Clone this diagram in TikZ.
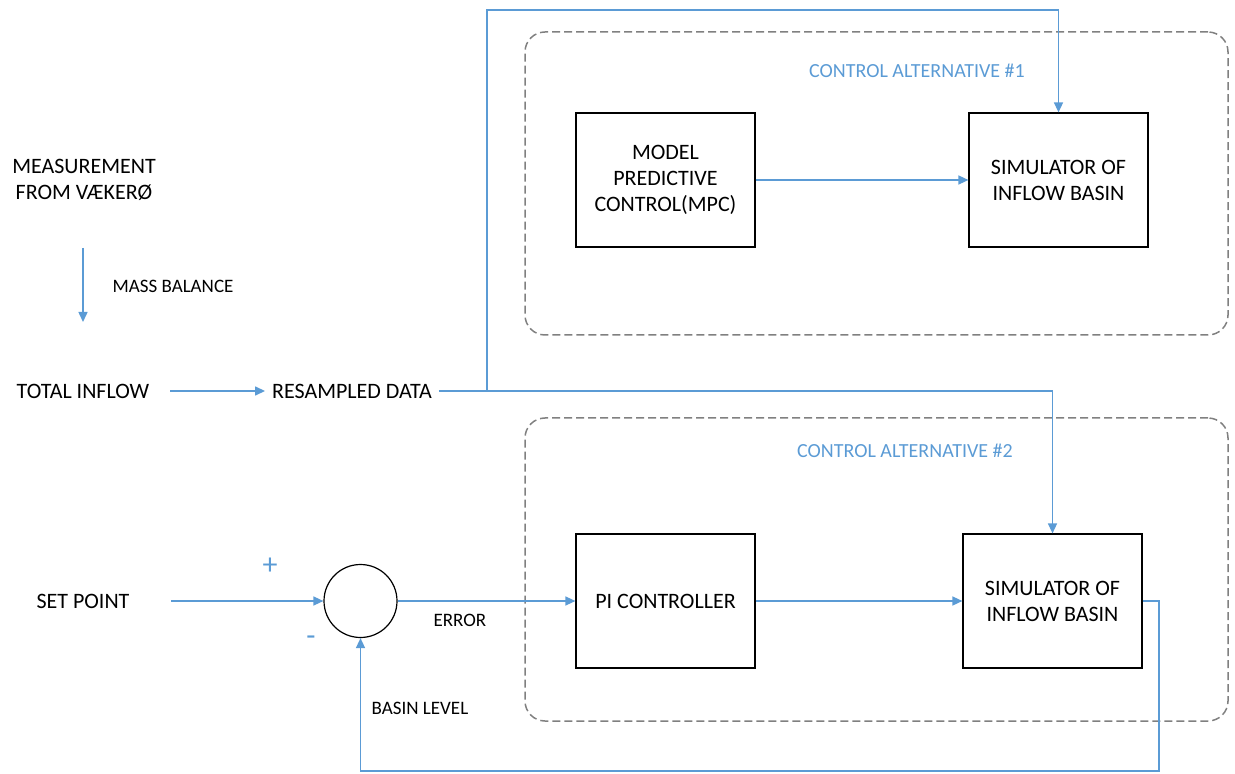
\documentclass[tikz,border=0pt]{standalone}
\usepackage{fontspec}
\setmainfont{Carlito}
\usetikzlibrary{arrows.meta, positioning}
\definecolor{azul}{RGB}{91,155,213}
\definecolor{cinza}{RGB}{128,128,128}

\begin{document}
\begin{tikzpicture}[
        x=0.5pt, y=-0.5pt,
        font=\fontsize{11}{13}\selectfont,
        bloco/.style={draw, line width=0.6pt, align=center, minimum width=89.5pt, minimum height=67pt},
        texto/.style={align=center},
        legenda/.style={font=\fontsize{9.5}{11}\selectfont},
        titulo/.style={font=\fontsize{10}{12}\selectfont, text=azul},
        sinal/.style={font=\fontsize{15}{17}\selectfont, text=azul},
        somador/.style={draw, circle, line width=0.6pt, minimum size=36.5pt, inner sep=0pt},
        seta/.style={-{Triangle[length=5pt, width=4.5pt]}, draw=azul, line width=0.75pt},
        moldura/.style={draw=cinza, dash pattern=on 4pt off 2pt, line width=0.75pt, rounded corners=10pt, minimum width=351.5pt, minimum height=151.5pt}
    ]
    \useasboundingbox (0,0) rectangle (1235,774);

    % molduras das duas alternativas
    \node[moldura] (alt1) at (876.5,183.5) {};
    \node[moldura] (alt2) at (876.5,569.5) {};
    \node[titulo] (tit1) at (917,71) {CONTROL ALTERNATIVE \#1};
    \node[titulo] (tit2) at (905,451) {CONTROL ALTERNATIVE \#2};

    % entrada de dados
    \node[texto] (medida) at (84,180) {MEASUREMENT\\FROM VÆKERØ};
    \coordinate (mb1) at (83,248);
    \coordinate (mb2) at (83,322);
    \node[legenda] (massa) at (173,286) {MASS BALANCE};
    \node[texto] (total) at (83,391) {TOTAL INFLOW};
    \node[texto] (resamp) at (352,391) {RESAMPLED DATA};
    \coordinate (topo) at (487,10);

    % alternativa 1
    \node[bloco] (mpc) at (665.5,180) {MODEL\\PREDICTIVE\\CONTROL(MPC)};
    \node[bloco] (sim1) at (1058.5,180) {SIMULATOR OF\\INFLOW BASIN};

    % alternativa 2
    \node[texto] (setp) at (83,601) {SET POINT};
    \node[somador] (soma) at (360.5,601) {};
    \node[sinal] (mais) at (270,566) {+};
    \node[sinal] (menos) at (311,641) {-};
    \node[bloco] (pi) at (665.5,601) {PI CONTROLLER};
    \node[bloco] (sim2) at (1052.5,601) {SIMULATOR OF\\INFLOW BASIN};
    \coordinate (retorno) at (1159,771);
    \node[legenda] (nivel) at (420,708) {BASIN LEVEL};

    \draw[seta] (mb1) -- (mb2);
    \draw[seta, shorten <=7pt] (total) -- (resamp);
    \draw[seta] (resamp.east -| topo) -- (topo) -| (sim1.north);
    \draw[seta] (resamp.east) -| (sim2.north);
    \draw[seta] (mpc) -- (sim1);
    \draw[seta, shorten <=17.4pt] (setp) -- (soma);
    \draw[seta] (soma) -- node[legenda, pos=0.35, below=3pt] (erro) {ERROR} (pi);
    \draw[seta] (pi) -- (sim2);
    \draw[seta] (sim2.east) -| (retorno) -| (soma.south);
\end{tikzpicture}
\end{document}
